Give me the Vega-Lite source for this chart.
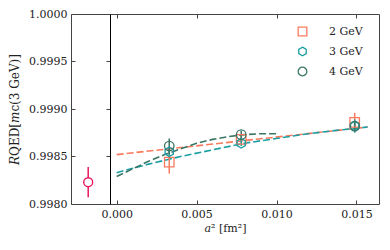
{
  "$schema": "https://vega.github.io/schema/vega-lite/v6.json",
  "width": 308,
  "height": 190,
  "autosize": "none",
  "padding": {"left": 71, "top": 14, "right": 11, "bottom": 46},
  "background": "white",
  "config": {
    "font": "DejaVu Serif",
    "view": {"stroke": "#444", "strokeWidth": 1},
    "axis": {"labelFont": "DejaVu Serif", "titleFont": "DejaVu Serif", "labelFontSize": 11, "titleFontSize": 11, "titleFontWeight": "normal", "labelColor": "#222", "titleColor": "#222", "grid": false, "domainColor": "#444", "tickColor": "#444"},
    "legend": {"labelFont": "DejaVu Serif", "labelFontSize": 11, "labelColor": "#222"}
  },
  "datasets": {
    "fits": [
      {"series": "2 GeV", "a2": 0.0, "fit": 0.99852},
      {"series": "2 GeV", "a2": 0.0157, "fit": 0.99881},
      {"series": "3 GeV", "a2": 0.0, "fit": 0.99833},
      {"series": "3 GeV", "a2": 0.002, "fit": 0.99842},
      {"series": "3 GeV", "a2": 0.004, "fit": 0.9985},
      {"series": "3 GeV", "a2": 0.006, "fit": 0.99857},
      {"series": "3 GeV", "a2": 0.008, "fit": 0.99864},
      {"series": "3 GeV", "a2": 0.010, "fit": 0.99869},
      {"series": "3 GeV", "a2": 0.012, "fit": 0.99874},
      {"series": "3 GeV", "a2": 0.014, "fit": 0.99878},
      {"series": "3 GeV", "a2": 0.0157, "fit": 0.99881},
      {"series": "4 GeV", "a2": 0.0, "fit": 0.99829},
      {"series": "4 GeV", "a2": 0.001, "fit": 0.99837},
      {"series": "4 GeV", "a2": 0.002, "fit": 0.99845},
      {"series": "4 GeV", "a2": 0.003, "fit": 0.99852},
      {"series": "4 GeV", "a2": 0.004, "fit": 0.99858},
      {"series": "4 GeV", "a2": 0.005, "fit": 0.99864},
      {"series": "4 GeV", "a2": 0.006, "fit": 0.99868},
      {"series": "4 GeV", "a2": 0.007, "fit": 0.99871},
      {"series": "4 GeV", "a2": 0.008, "fit": 0.99873},
      {"series": "4 GeV", "a2": 0.009, "fit": 0.99874},
      {"series": "4 GeV", "a2": 0.010, "fit": 0.99874}
    ],
    "points": [
      {"series": "2 GeV", "a2": 0.00329, "r": 0.99844, "lo": 0.99832, "hi": 0.99856},
      {"series": "2 GeV", "a2": 0.00779, "r": 0.99868, "lo": 0.99863, "hi": 0.99873},
      {"series": "2 GeV", "a2": 0.01489, "r": 0.99886, "lo": 0.99876, "hi": 0.99896},
      {"series": "3 GeV", "a2": 0.00329, "r": 0.99855, "lo": 0.99851, "hi": 0.99859},
      {"series": "3 GeV", "a2": 0.00779, "r": 0.99864, "lo": 0.99861, "hi": 0.99867},
      {"series": "3 GeV", "a2": 0.01489, "r": 0.99882, "lo": 0.99875, "hi": 0.99889},
      {"series": "4 GeV", "a2": 0.00329, "r": 0.99861, "lo": 0.99853, "hi": 0.99869},
      {"series": "4 GeV", "a2": 0.00779, "r": 0.99873, "lo": 0.99869, "hi": 0.99877},
      {"series": "4 GeV", "a2": 0.01489, "r": 0.99882, "lo": 0.99877, "hi": 0.99887}
    ],
    "cont": [
      {"a2": -0.00178, "r": 0.99823, "lo": 0.99807, "hi": 0.99839}
    ],
    "sep": [
      {"a2": -0.00045, "r": 0.999}
    ]
  },
  "layer": [
    {
      "data": {"name": "sep"},
      "mark": {"type": "point", "opacity": 0},
      "encoding": {
        "x": {"field": "a2", "type": "quantitative", "scale": {"domain": [-0.002856, 0.01641], "nice": false, "zero": false},
              "axis": {"orient": "top", "values": [0, 0.005, 0.01, 0.015], "labels": false, "tickSize": -4, "domain": false, "title": null}},
        "y": {"field": "r", "type": "quantitative", "scale": {"domain": [0.998, 1.0], "nice": false, "zero": false},
              "axis": {"orient": "left", "offset": -39, "values": [0.998, 0.9985, 0.999, 0.9995, 1.0], "labels": false, "tickSize": 4, "domainColor": "black", "tickColor": "#444", "title": null}}
      }
    },
    {
      "layer": [
        {
          "data": {"name": "fits"},
          "mark": {"type": "line", "strokeDash": [7, 3], "strokeWidth": 1.6, "clip": true},
          "encoding": {
            "x": {"field": "a2", "type": "quantitative",
                  "axis": {"orient": "bottom", "values": [0, 0.005, 0.01, 0.015], "format": ".3f", "tickSize": -4, "labelPadding": 8, "domain": false, "title": "𝑎² [fm²]", "titlePadding": 3}},
            "y": {"field": "fit", "type": "quantitative",
                  "axis": {"orient": "left", "values": [0.998, 0.9985, 0.999, 0.9995, 1.0], "format": ".4f", "tickSize": -4, "labelPadding": 8, "domain": false, "title": "𝑅QED[𝑚c(3 GeV)]", "titleFontSize": 12, "titlePadding": 7}},
            "color": {"field": "series", "type": "nominal"},
            "detail": {"field": "series"}
          }
        },
        {
          "data": {"name": "points"},
          "mark": {"type": "rule", "strokeWidth": 1.5},
          "encoding": {
            "x": {"field": "a2", "type": "quantitative"},
            "y": {"field": "lo", "type": "quantitative"},
            "y2": {"field": "hi"},
            "color": {"field": "series", "type": "nominal"}
          }
        },
        {
          "data": {"name": "points"},
          "mark": {"type": "point", "filled": false, "strokeWidth": 1.3, "size": 90, "opacity": 1},
          "encoding": {
            "x": {"field": "a2", "type": "quantitative"},
            "y": {"field": "r", "type": "quantitative"},
            "color": {"field": "series", "type": "nominal",
                      "scale": {"domain": ["2 GeV", "3 GeV", "4 GeV"], "range": ["#fa7a5e", "#1a9ea2", "#3a7666"]},
                      "legend": {"title": null, "orient": "none", "legendX": 226, "legendY": 12, "labelOffset": 21, "rowPadding": 5, "symbolStrokeWidth": 1.3, "symbolSize": 75}},
            "shape": {"field": "series", "type": "nominal",
                      "scale": {"domain": ["2 GeV", "3 GeV", "4 GeV"], "range": ["square", "M0,-1L0.866,-0.5L0.866,0.5L0,1L-0.866,0.5L-0.866,-0.5Z", "circle"]},
                      "legend": {"title": null, "orient": "none", "legendX": 226, "legendY": 12, "labelOffset": 21, "rowPadding": 5, "symbolStrokeWidth": 1.3, "symbolSize": 75}}
          }
        },
        {
          "data": {"name": "cont"},
          "mark": {"type": "rule", "strokeWidth": 1.5, "color": "#e8175a"},
          "encoding": {
            "x": {"field": "a2", "type": "quantitative"},
            "y": {"field": "lo", "type": "quantitative"},
            "y2": {"field": "hi"}
          }
        },
        {
          "data": {"name": "cont"},
          "mark": {"type": "point", "filled": false, "fill": "white", "fillOpacity": 1, "strokeWidth": 1.4, "size": 80, "color": "#e8175a", "opacity": 1},
          "encoding": {
            "x": {"field": "a2", "type": "quantitative"},
            "y": {"field": "r", "type": "quantitative"}
          }
        }
      ]
    }
  ],
  "resolve": {"axis": {"x": "independent", "y": "independent"}}
}
